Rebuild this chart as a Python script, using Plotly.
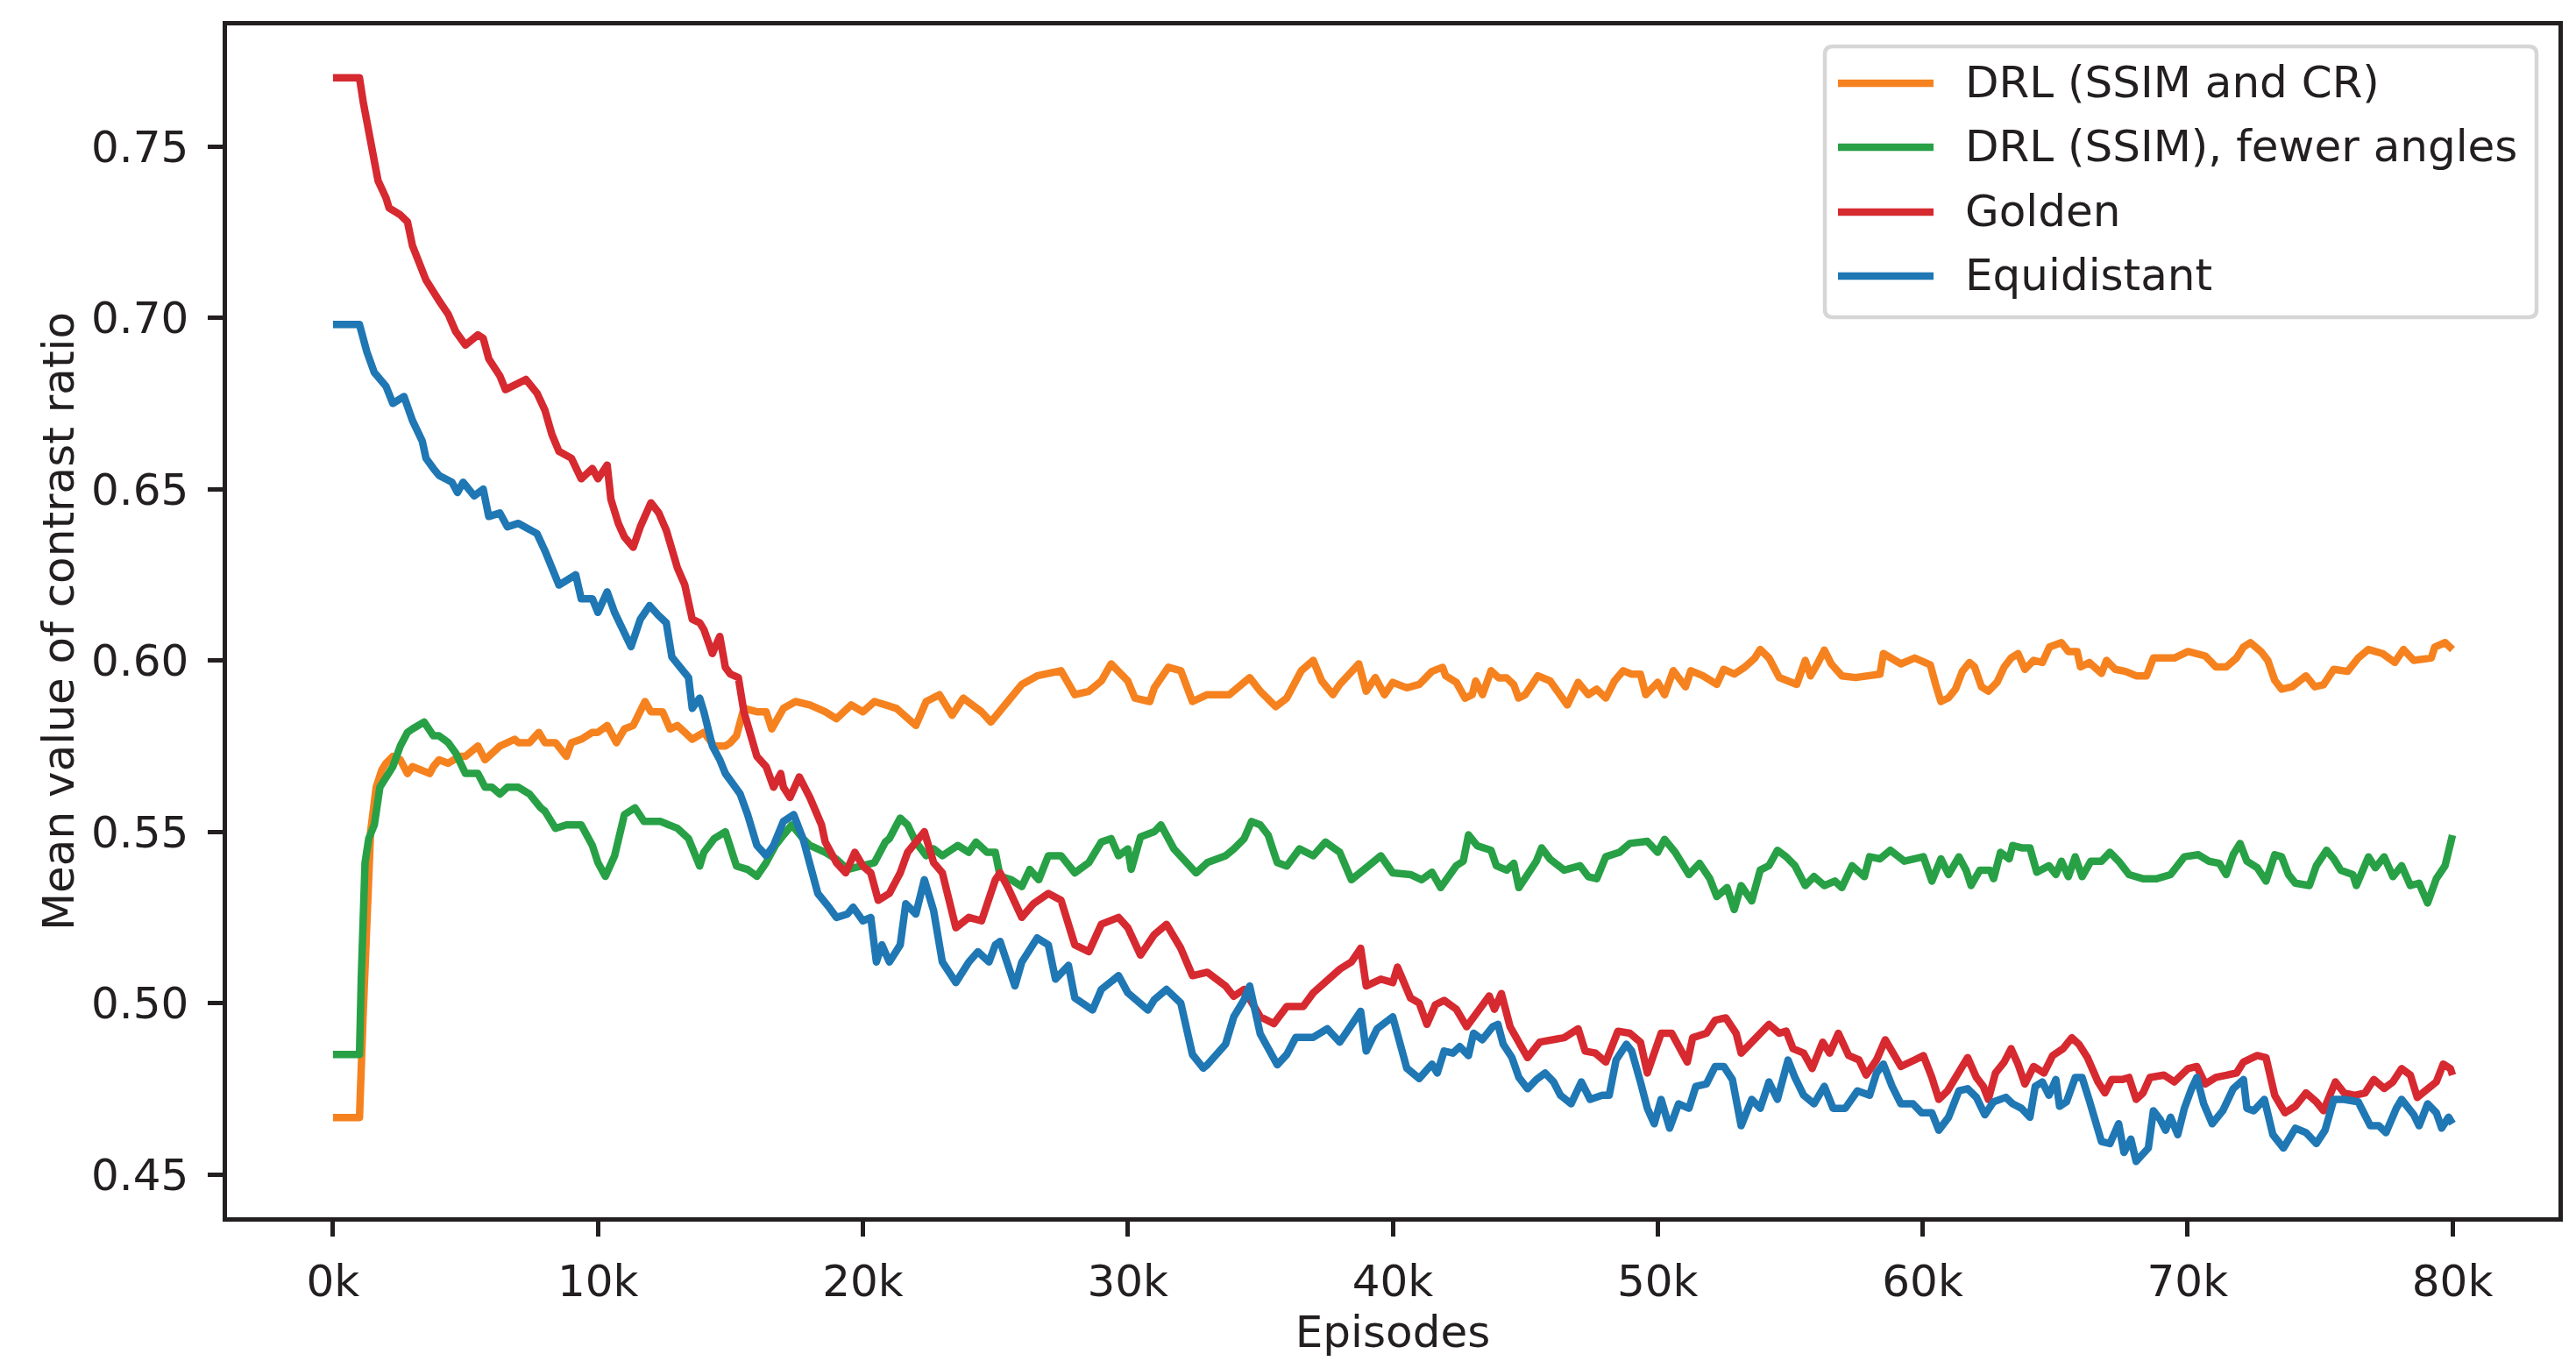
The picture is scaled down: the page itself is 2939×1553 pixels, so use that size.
import plotly.graph_objects as go

# ---------------- data (episodes in thousands, mean contrast ratio) ----------------
drl_ssim_cr = [
    (0, 0.4666), (1.0, 0.4666), (1.14, 0.497), (1.28, 0.530), (1.42, 0.550), (1.63, 0.563), (1.84, 0.568),
    (2.00, 0.570), (2.26, 0.572), (2.54, 0.571), (2.81, 0.567), (3.00, 0.569), (3.37, 0.568), (3.65, 0.567),
    (3.79, 0.569), (4.00, 0.571), (4.35, 0.570), (4.77, 0.572), (5.00, 0.572), (5.47, 0.575), (5.74, 0.571),
    (6.00, 0.573), (6.30, 0.575), (6.86, 0.577), (7.00, 0.576), (7.42, 0.576), (7.77, 0.579), (8.00, 0.576),
    (8.40, 0.576), (8.81, 0.572), (9.00, 0.576), (9.37, 0.577), (9.79, 0.579), (10.00, 0.579), (10.35, 0.581),
    (10.70, 0.576), (11.00, 0.580), (11.33, 0.581), (11.60, 0.586), (11.78, 0.588), (12.00, 0.585),
    (12.44, 0.585), (12.72, 0.580), (13.00, 0.581), (13.28, 0.579), (13.56, 0.577), (14.00, 0.579),
    (14.39, 0.575), (14.81, 0.575), (15.00, 0.576), (15.23, 0.578), (15.51, 0.586), (16.00, 0.585),
    (16.35, 0.585), (16.56, 0.580), (17.00, 0.586), (17.46, 0.588), (18.00, 0.587), (18.58, 0.585),
    (19.00, 0.583), (19.56, 0.587), (20.00, 0.585),
    (20.44, 0.588), (21.27, 0.586), (22.0, 0.581), (22.39, 0.588), (22.89, 0.590), (23.37, 0.584),
    (23.79, 0.589), (24.48, 0.585), (24.83, 0.582), (25.46, 0.588), (26.0, 0.593), (26.58, 0.5955),
    (27.48, 0.597), (28.0, 0.590), (28.53, 0.591), (29.0, 0.594), (29.37, 0.599), (30.0, 0.594),
    (30.27, 0.589), (30.83, 0.588), (31.0, 0.592), (31.53, 0.598), (32.0, 0.597), (32.44, 0.588),
    (33.0, 0.590), (33.83, 0.590), (34.60, 0.595), (35.0, 0.591), (35.58, 0.5865), (36.0, 0.589),
    (36.55, 0.597), (37.0, 0.600), (37.32, 0.594), (37.74, 0.590), (38.0, 0.593), (38.72, 0.599),
    (39.0, 0.591), (39.34, 0.595), (39.69, 0.590), (40.0, 0.5936), (40.53, 0.592), (41.0, 0.593),
    (41.36, 0.5955), (41.48, 0.5968), (41.88, 0.598), (42.0, 0.5955), (42.40, 0.5936), (42.73, 0.589),
    (43.0, 0.590), (43.13, 0.594), (43.39, 0.590), (43.71, 0.597), (44.0, 0.5949), (44.30, 0.5949),
    (44.57, 0.5929), (44.75, 0.589), (45.0, 0.590), (45.48, 0.5955), (45.94, 0.594), (46.33, 0.5897),
    (46.59, 0.587), (47.0, 0.5936), (47.38, 0.590), (47.70, 0.5916), (48.04, 0.589), (48.37, 0.594),
    (48.70, 0.597), (49.0, 0.596), (49.35, 0.596), (49.55, 0.590), (50.0, 0.5936), (50.26, 0.590),
    (50.59, 0.597), (51.05, 0.5923), (51.25, 0.597), (51.71, 0.5955), (52.23, 0.593), (52.49, 0.5974),
    (52.89, 0.596), (53.28, 0.598), (53.67, 0.6007), (53.87, 0.6032), (54.20, 0.6007), (54.59, 0.595),
    (54.98, 0.594), (55.25, 0.593), (55.57, 0.600), (55.77, 0.5955), (56.03, 0.599), (56.29, 0.603),
    (56.55, 0.599), (56.95, 0.5955), (57.47, 0.595), (58.0, 0.5955), (58.39, 0.596), (58.52, 0.602),
    (58.78, 0.6007), (59.18, 0.599), (59.70, 0.6007), (60.29, 0.5987), (60.49, 0.593), (60.69, 0.588),
    (60.98, 0.5891), (61.24, 0.5916), (61.50, 0.5968), (61.77, 0.5994), (61.96, 0.5981), (62.22, 0.5923),
    (62.48, 0.591), (62.81, 0.5936), (63.08, 0.5981), (63.34, 0.6007), (63.60, 0.602), (63.86, 0.5974),
    (64.19, 0.600), (64.52, 0.5994), (64.79, 0.6039), (65.24, 0.6052), (65.50, 0.6026), (65.83, 0.6026),
    (65.96, 0.5981), (66.29, 0.5994), (66.75, 0.5962), (66.94, 0.600), (67.27, 0.5974), (67.66, 0.5968),
    (68.06, 0.5955), (68.45, 0.5955), (68.71, 0.6007), (69.11, 0.6007), (69.50, 0.6007), (70.02, 0.6026),
    (70.41, 0.602), (70.67, 0.6013), (71.07, 0.5981), (71.46, 0.5981), (71.85, 0.6007), (72.11, 0.6039),
    (72.37, 0.6052), (72.77, 0.6026), (73.03, 0.600), (73.29, 0.5942), (73.55, 0.5916), (73.95, 0.5923),
    (74.47, 0.5955), (74.80, 0.5923), (75.13, 0.5929), (75.52, 0.5974), (76.04, 0.5968), (76.44, 0.6007),
    (76.83, 0.6032), (77.36, 0.602), (77.82, 0.5994), (78.15, 0.6032), (78.54, 0.600), (78.93, 0.6007),
    (79.20, 0.6007), (79.33, 0.6039), (79.72, 0.6052), (80.0, 0.6032),
]

drl_ssim_fewer = [
    (0, 0.485), (1.0, 0.485), (1.07, 0.508), (1.21, 0.541), (1.35, 0.548), (1.56, 0.552), (1.77, 0.563),
    (2.00, 0.566), (2.26, 0.569), (2.54, 0.575), (2.81, 0.579), (3.00, 0.580), (3.44, 0.582), (3.79, 0.578),
    (4.00, 0.578), (4.35, 0.576), (4.63, 0.573), (5.00, 0.567), (5.47, 0.567), (5.74, 0.563), (6.00, 0.563),
    (6.30, 0.561), (6.58, 0.563), (7.00, 0.563), (7.42, 0.561), (7.84, 0.557), (8.00, 0.556), (8.40, 0.551),
    (8.81, 0.552), (9.37, 0.552), (9.79, 0.546), (10.00, 0.541), (10.28, 0.537), (10.63, 0.543),
    (11.00, 0.555), (11.40, 0.557), (11.74, 0.553), (12.37, 0.553), (12.72, 0.552), (13.00, 0.551),
    (13.42, 0.548), (13.84, 0.540), (14.00, 0.544), (14.39, 0.548), (14.81, 0.550), (15.23, 0.540),
    (15.65, 0.539), (16.00, 0.537), (16.35, 0.541), (16.70, 0.546), (17.00, 0.549), (17.32, 0.552),
    (17.74, 0.548), (18.00, 0.546), (18.58, 0.544), (19.00, 0.542), (19.42, 0.539), (20.00, 0.540),
    (20.44, 0.541), (20.85, 0.547), (21.0, 0.548), (21.41, 0.554), (21.69, 0.552), (22.0, 0.547),
    (22.39, 0.543), (22.67, 0.545), (23.0, 0.543), (23.58, 0.546), (24.0, 0.544), (24.27, 0.547),
    (24.69, 0.544), (25.0, 0.544), (25.18, 0.537), (25.60, 0.536), (26.0, 0.534), (26.30, 0.539),
    (26.64, 0.536), (27.0, 0.543), (27.48, 0.543), (28.0, 0.538), (28.53, 0.541), (29.0, 0.547),
    (29.37, 0.548), (29.65, 0.543), (30.0, 0.545), (30.13, 0.539), (30.48, 0.5485), (31.0, 0.550),
    (31.25, 0.552), (31.74, 0.545), (32.0, 0.543), (32.58, 0.538), (33.0, 0.541), (33.69, 0.543),
    (34.0, 0.545), (34.39, 0.548), (34.67, 0.553), (35.0, 0.552), (35.30, 0.549), (35.64, 0.541),
    (36.0, 0.540), (36.48, 0.545), (37.0, 0.543), (37.46, 0.547), (38.0, 0.544), (38.44, 0.536),
    (39.0, 0.5395), (39.55, 0.543), (40.0, 0.538), (40.67, 0.5375), (41.09, 0.536),
    (41.48, 0.5382), (41.81, 0.5337), (42.14, 0.5369), (42.40, 0.5401), (42.66, 0.5414), (42.86, 0.5491),
    (43.19, 0.5459), (43.71, 0.5446), (43.91, 0.5401), (44.30, 0.5388), (44.57, 0.5408), (44.76, 0.5337),
    (45.09, 0.5375), (45.42, 0.5414), (45.62, 0.5453), (45.94, 0.542), (46.47, 0.5388), (47.07, 0.5401),
    (47.38, 0.5369), (47.70, 0.5363), (48.04, 0.5427), (48.56, 0.544), (48.95, 0.5466), (49.61, 0.5472),
    (50.00, 0.544), (50.26, 0.5478), (50.66, 0.544), (51.18, 0.5375), (51.58, 0.5408), (51.97, 0.5363),
    (52.23, 0.5311), (52.62, 0.5337), (52.89, 0.5273), (53.15, 0.5343), (53.55, 0.5298), (53.87, 0.5388),
    (54.20, 0.5401), (54.52, 0.5446), (54.85, 0.5427), (55.18, 0.5401), (55.57, 0.5343), (55.90, 0.5369),
    (56.29, 0.5343), (56.69, 0.5356), (56.95, 0.5337), (57.34, 0.5401), (57.80, 0.5369), (58.00, 0.5427),
    (58.39, 0.5421), (58.78, 0.5446), (59.31, 0.5414), (60.03, 0.5427), (60.35, 0.5356), (60.69, 0.5421),
    (60.98, 0.5375), (61.37, 0.5427), (61.64, 0.5388), (61.83, 0.5343), (62.16, 0.5388), (62.55, 0.5388),
    (62.68, 0.5363), (62.94, 0.544), (63.27, 0.5421), (63.40, 0.546), (63.73, 0.5453), (64.05, 0.5453),
    (64.31, 0.5382), (64.77, 0.5401), (65.03, 0.5375), (65.24, 0.5414), (65.50, 0.5369), (65.76, 0.5427),
    (66.02, 0.5369), (66.35, 0.5414), (66.75, 0.5414), (67.07, 0.544), (67.40, 0.5414), (67.79, 0.5375),
    (68.31, 0.5363), (68.84, 0.5363), (69.36, 0.5375), (69.88, 0.5427), (70.41, 0.5433), (70.80, 0.5414),
    (71.20, 0.5408), (71.46, 0.5375), (71.72, 0.5433), (71.98, 0.5466), (72.24, 0.5414), (72.63, 0.5395),
    (72.96, 0.5356), (73.29, 0.5433), (73.55, 0.5427), (73.81, 0.5375), (74.07, 0.535), (74.60, 0.5343),
    (74.86, 0.5401), (75.25, 0.5446), (75.52, 0.5421), (75.78, 0.5388), (76.24, 0.5375), (76.37, 0.5343),
    (76.83, 0.5427), (77.09, 0.5395), (77.42, 0.5427), (77.75, 0.5369), (78.08, 0.5401), (78.41, 0.5343),
    (78.74, 0.535), (79.06, 0.5292), (79.39, 0.5363), (79.72, 0.5401), (80.0, 0.549),
]

golden = [
    (0, 0.770), (1.0, 0.770), (1.14, 0.763), (1.42, 0.750), (1.70, 0.740), (2.00, 0.735), (2.12, 0.732),
    (2.54, 0.730), (2.81, 0.728), (3.00, 0.721), (3.37, 0.714), (3.51, 0.711), (4.00, 0.705), (4.35, 0.701),
    (4.63, 0.696), (5.00, 0.692), (5.47, 0.695), (5.67, 0.694), (5.88, 0.688), (6.30, 0.683), (6.51, 0.679),
    (7.00, 0.681), (7.28, 0.682), (7.70, 0.678), (8.00, 0.673), (8.26, 0.666), (8.53, 0.661), (9.00, 0.659),
    (9.37, 0.653), (9.79, 0.656), (10.00, 0.653), (10.35, 0.657), (10.49, 0.647), (10.77, 0.640),
    (11.00, 0.636), (11.33, 0.633), (11.60, 0.639), (12.00, 0.646), (12.30, 0.643), (12.58, 0.638),
    (12.86, 0.630), (13.00, 0.627), (13.28, 0.622), (13.56, 0.612), (13.84, 0.611), (14.00, 0.609),
    (14.32, 0.602), (14.60, 0.607), (14.81, 0.598), (15.00, 0.596), (15.30, 0.595), (15.51, 0.585),
    (16.00, 0.572), (16.35, 0.569), (16.63, 0.563), (16.90, 0.567), (17.00, 0.563), (17.25, 0.560),
    (17.60, 0.566), (18.00, 0.560), (18.44, 0.552), (18.58, 0.547), (19.00, 0.541), (19.35, 0.538),
    (19.70, 0.544), (20.00, 0.540),
    (20.30, 0.538), (20.58, 0.530), (21.0, 0.532), (21.41, 0.538), (21.69, 0.544), (22.0, 0.547),
    (22.32, 0.550), (22.67, 0.541), (23.0, 0.538), (23.51, 0.522), (24.0, 0.525), (24.48, 0.524),
    (25.0, 0.536), (25.18, 0.538), (25.46, 0.534), (26.0, 0.525), (26.44, 0.529), (27.0, 0.532),
    (27.48, 0.530), (28.0, 0.517), (28.53, 0.515), (29.0, 0.523), (29.65, 0.525), (30.0, 0.522),
    (30.48, 0.514), (31.0, 0.520), (31.46, 0.523), (32.0, 0.516), (32.44, 0.508), (33.0, 0.509),
    (33.69, 0.505), (34.0, 0.502), (34.39, 0.504), (35.0, 0.496), (35.51, 0.494), (36.0, 0.499),
    (36.62, 0.499), (37.0, 0.503), (38.02, 0.510), (38.44, 0.512), (38.79, 0.516), (39.0, 0.505),
    (39.55, 0.507), (40.0, 0.506), (40.18, 0.5105), (40.67, 0.5015), (41.0, 0.500),
    (41.29, 0.4938), (41.61, 0.4995), (41.94, 0.5008), (42.40, 0.4982), (42.79, 0.4931), (43.18, 0.4976),
    (43.64, 0.5021), (43.84, 0.4982), (44.10, 0.5028), (44.43, 0.4931), (44.76, 0.4880), (45.09, 0.4841),
    (45.55, 0.4886), (46.07, 0.4893), (46.47, 0.4899), (47.0, 0.4925), (47.26, 0.486), (47.65, 0.4854),
    (48.04, 0.4828), (48.50, 0.4918), (48.95, 0.4912), (49.35, 0.4886), (49.61, 0.4796), (49.87, 0.4854),
    (50.13, 0.4912), (50.53, 0.4912), (50.79, 0.4873), (51.12, 0.4828), (51.32, 0.4899), (51.84, 0.4912),
    (52.17, 0.4950), (52.57, 0.4957), (52.96, 0.4912), (53.15, 0.4854), (53.55, 0.4886), (54.20, 0.4938),
    (54.59, 0.4912), (54.85, 0.4918), (55.11, 0.4867), (55.51, 0.4854), (55.83, 0.4809), (56.23, 0.4886),
    (56.49, 0.4854), (56.82, 0.4912), (57.21, 0.4847), (57.60, 0.4834), (57.87, 0.479), (58.26, 0.4834),
    (58.59, 0.4893), (58.91, 0.4847), (59.18, 0.4815), (59.70, 0.4834), (60.03, 0.4847), (60.35, 0.4783),
    (60.61, 0.4719), (60.94, 0.4744),
    (61.24, 0.4783), (61.44, 0.4809), (61.70, 0.4841), (62.03, 0.4783), (62.29, 0.4757), (62.48, 0.4719),
    (62.75, 0.4796), (63.08, 0.4828), (63.34, 0.4867), (63.60, 0.4822), (63.86, 0.4764), (64.19, 0.4815),
    (64.58, 0.4796), (64.91, 0.4847), (65.30, 0.4867), (65.63, 0.4899), (65.90, 0.488), (66.22, 0.4841),
    (66.62, 0.477), (66.88, 0.4738), (67.14, 0.4777), (67.53, 0.4777), (67.79, 0.4783), (68.06, 0.4719),
    (68.32, 0.4738), (68.58, 0.4783), (69.11, 0.479), (69.50, 0.477), (70.02, 0.4809), (70.35, 0.4815),
    (70.67, 0.4764), (71.07, 0.4783), (71.46, 0.479), (71.85, 0.4796), (72.11, 0.4828), (72.63, 0.4847),
    (72.96, 0.4841), (73.29, 0.4731), (73.68, 0.468), (74.07, 0.4699), (74.47, 0.4738), (74.86, 0.4712),
    (75.13, 0.4686), (75.58, 0.477), (75.91, 0.4738), (76.31, 0.4731), (76.70, 0.4738), (77.03, 0.4777),
    (77.42, 0.4751), (77.75, 0.477), (78.08, 0.4809), (78.41, 0.479), (78.67, 0.4725), (79.06, 0.4751),
    (79.39, 0.477), (79.65, 0.4822), (79.92, 0.4809), (80.0, 0.479),
]

equidistant = [
    (0, 0.698), (1.0, 0.698), (1.28, 0.690), (1.56, 0.684), (2.00, 0.680), (2.26, 0.675), (2.68, 0.677),
    (3.00, 0.670), (3.37, 0.664), (3.51, 0.659), (3.79, 0.656), (4.00, 0.654), (4.49, 0.652), (4.70, 0.649),
    (4.91, 0.652), (5.33, 0.648), (5.67, 0.650), (5.88, 0.642), (6.30, 0.643), (6.58, 0.639), (7.00, 0.640),
    (7.42, 0.638), (7.70, 0.637), (8.00, 0.632), (8.26, 0.627), (8.53, 0.622), (9.16, 0.625), (9.37, 0.618),
    (9.79, 0.618), (10.00, 0.614), (10.35, 0.620), (10.63, 0.614), (11.00, 0.608), (11.25, 0.604),
    (11.60, 0.612), (11.95, 0.616), (12.30, 0.613), (12.58, 0.611), (12.79, 0.601), (13.00, 0.599),
    (13.42, 0.595), (13.56, 0.586), (13.84, 0.589), (14.00, 0.585), (14.32, 0.575), (14.60, 0.571),
    (14.81, 0.567), (15.00, 0.565), (15.37, 0.561), (15.65, 0.555), (16.00, 0.546), (16.35, 0.543),
    (16.63, 0.546), (17.00, 0.553), (17.39, 0.555), (17.74, 0.548), (18.00, 0.540), (18.30, 0.532),
    (18.72, 0.528), (19.00, 0.525), (19.42, 0.526), (19.63, 0.528), (20.00, 0.524),
    (20.30, 0.525), (20.51, 0.512), (20.72, 0.517), (21.0, 0.512), (21.41, 0.517), (21.62, 0.529),
    (22.0, 0.526), (22.32, 0.536), (22.67, 0.527), (23.0, 0.512), (23.51, 0.506), (24.0, 0.512),
    (24.34, 0.515), (24.76, 0.512), (25.0, 0.517), (25.18, 0.518), (25.74, 0.505), (26.0, 0.512),
    (26.58, 0.519), (27.0, 0.517), (27.27, 0.507), (27.76, 0.511), (28.0, 0.5015), (28.67, 0.498),
    (29.0, 0.504), (29.65, 0.508), (30.0, 0.503), (30.76, 0.498), (31.0, 0.501), (31.46, 0.504),
    (32.0, 0.500), (32.44, 0.485), (32.85, 0.481), (33.0, 0.482), (33.69, 0.488), (34.0, 0.496),
    (34.39, 0.501), (34.60, 0.505), (35.0, 0.491), (35.64, 0.482), (36.0, 0.485), (36.34, 0.490),
    (37.0, 0.490), (37.53, 0.4925), (38.0, 0.4886), (38.79, 0.4976), (39.0, 0.486), (39.41, 0.4925),
    (40.0, 0.496), (40.53, 0.481), (41.0, 0.478),
    (41.48, 0.4822), (41.68, 0.4796), (41.94, 0.486), (42.27, 0.4854), (42.53, 0.4873), (42.86, 0.4847),
    (43.05, 0.4912), (43.38, 0.4893), (43.77, 0.4931), (43.97, 0.4938), (44.17, 0.488), (44.50, 0.4841),
    (44.76, 0.4783), (45.09, 0.475), (45.42, 0.4777), (45.75, 0.4796), (46.07, 0.477), (46.33, 0.4731),
    (46.73, 0.4706), (47.12, 0.477), (47.45, 0.4719), (47.91, 0.4731), (48.17, 0.4731), (48.43, 0.4834),
    (48.82, 0.488), (49.02, 0.486), (49.35, 0.477), (49.61, 0.4693), (49.87, 0.4648), (50.13, 0.4719),
    (50.45, 0.4635), (50.79, 0.4706), (51.18, 0.4693), (51.44, 0.4757), (51.84, 0.4764), (52.17, 0.4815),
    (52.50, 0.4815), (52.82, 0.4777), (53.15, 0.4642), (53.55, 0.4719), (53.87, 0.4693), (54.20, 0.477),
    (54.52, 0.4719), (54.92, 0.4834), (55.18, 0.4783), (55.51, 0.4731), (55.90, 0.4706), (56.29, 0.4757),
    (56.62, 0.4693), (57.08, 0.4693), (57.54, 0.4744), (58.0, 0.4731), (58.26, 0.4796), (58.52, 0.4822),
    (58.85, 0.4757), (59.18, 0.4706), (59.64, 0.4706), (59.96, 0.468), (60.35, 0.468), (60.61, 0.4629),
    (60.98, 0.4667), (61.37, 0.4744), (61.70, 0.475), (62.03, 0.4725), (62.35, 0.4674), (62.68, 0.4712),
    (63.14, 0.4725), (63.40, 0.4706), (63.73, 0.4693), (64.05, 0.4667), (64.25, 0.4757), (64.52, 0.477),
    (64.77, 0.4731), (65.03, 0.4777), (65.17, 0.4699), (65.43, 0.4712), (65.76, 0.4783), (66.02, 0.4783),
    (66.28, 0.4719), (66.55, 0.4654), (66.75, 0.4596), (67.07, 0.459), (67.40, 0.4648), (67.60, 0.4564),
    (67.86, 0.4603), (68.06, 0.4538), (68.32, 0.4564), (68.52, 0.4577), (68.71, 0.4686), (68.97, 0.466),
    (69.17, 0.4629), (69.36, 0.4667), (69.63, 0.4616), (69.88, 0.4693), (70.15, 0.475), (70.35, 0.4783),
    (70.61, 0.4706), (70.93, 0.4648), (71.33, 0.4686), (71.72, 0.475), (72.11, 0.4777), (72.24, 0.4693),
    (72.50, 0.4686), (72.90, 0.4719), (73.22, 0.4616), (73.62, 0.4577), (74.07, 0.4635), (74.47, 0.4622),
    (74.86, 0.459), (75.19, 0.4629), (75.52, 0.4719), (75.91, 0.4719), (76.44, 0.4712), (76.90, 0.4642),
    (77.22, 0.4642), (77.49, 0.4622), (77.88, 0.4693), (78.08, 0.4719), (78.54, 0.4674), (78.74, 0.4642),
    (79.06, 0.4706), (79.39, 0.468), (79.59, 0.4635), (79.85, 0.4667), (80.0, 0.4648),
]

series_names = ["DRL (SSIM and CR)", "DRL (SSIM), fewer angles", "Golden", "Equidistant"]
series_data = [drl_ssim_cr, drl_ssim_fewer, golden, equidistant]
series_colors = ["#f5821f", "#28a046", "#d62930", "#1f77b4"]

x_tick_vals = [0, 10000, 20000, 30000, 40000, 50000, 60000, 70000, 80000]
x_tick_text = ["0k", "10k", "20k", "30k", "40k", "50k", "60k", "70k", "80k"]
y_tick_vals = [0.45, 0.50, 0.55, 0.60, 0.65, 0.70, 0.75]
y_tick_text = ["0.45", "0.50", "0.55", "0.60", "0.65", "0.70", "0.75"]

# ---------------- figure ----------------
W, H = 2939, 1553
ML, MR, MT, MB = 259, 20, 29, 164
PW, PH = W - ML - MR, H - MT - MB
INK = "#231f20"
FONT = "DejaVu Sans"
LW = 8.5

fig = go.Figure()
for name, pts, color in zip(series_names, series_data, series_colors):
    fig.add_trace(go.Scatter(
        x=[p[0] * 1000 for p in pts], y=[p[1] for p in pts],
        mode="lines", name=name, showlegend=False,
        line=dict(color=color, width=LW),
    ))

axis_common = dict(
    showline=True, linewidth=4.5, linecolor=INK, mirror=True,
    ticks="outside", ticklen=17, tickwidth=4.5, tickcolor=INK,
    showgrid=False, zeroline=False,
    tickfont=dict(family=FONT, size=50, color=INK),
)

fig.update_layout(
    width=W, height=H,
    margin=dict(l=ML, r=MR, t=MT, b=MB, pad=0, autoexpand=False),
    paper_bgcolor="white", plot_bgcolor="white",
    font=dict(family=FONT, size=50, color=INK),
    xaxis=dict(range=[-4000, 84000], tickvals=x_tick_vals, ticktext=x_tick_text,
               title=dict(text="Episodes", font=dict(family=FONT, size=50, color=INK), standoff=12),
               ticklabelstandoff=8, automargin=False, **axis_common),
    yaxis=dict(range=[0.4375, 0.7853], tickvals=y_tick_vals, ticktext=y_tick_text,
               title=dict(text="Mean value of contrast ratio", font=dict(family=FONT, size=50, color=INK), standoff=5),
               ticklabelstandoff=12, automargin=False, **axis_common),
)

# ---------------- legend (matplotlib-style, drawn in paper coordinates) ----------------
def px_x(xp):
    return (xp - ML) / PW

def px_y(yp):
    return (H - MB - yp) / PH

bx0, bx1, by0, by1, r = 2082, 2894, 53, 362, 9
rx, ry = r / PW, r / PH
X0, X1, Y0, Y1 = px_x(bx0), px_x(bx1), px_y(by1), px_y(by0)
path = (f"M{X0 + rx},{Y0} L{X1 - rx},{Y0} Q{X1},{Y0} {X1},{Y0 + ry} "
        f"L{X1},{Y1 - ry} Q{X1},{Y1} {X1 - rx},{Y1} L{X0 + rx},{Y1} "
        f"Q{X0},{Y1} {X0},{Y1 - ry} L{X0},{Y0 + ry} Q{X0},{Y0} {X0 + rx},{Y0} Z")
fig.add_shape(type="path", path=path, xref="paper", yref="paper",
              line=dict(color="#d6d6d6", width=4.5), fillcolor="rgba(255,255,255,0.8)", layer="above")

row_y = [95, 168, 242, 315]
for name, color, ry_ in zip(series_names, series_colors, row_y):
    fig.add_shape(type="line", xref="paper", yref="paper",
                  x0=px_x(2097), x1=px_x(2206), y0=px_y(ry_), y1=px_y(ry_),
                  line=dict(color=color, width=LW), layer="above")
    fig.add_annotation(text=name, xref="paper", yref="paper", x=px_x(2240), y=px_y(ry_ - 1),
                       xanchor="left", yanchor="middle", showarrow=False,
                       font=dict(family=FONT, size=50, color=INK))

post = """
document.body.style.margin='0';
document.querySelectorAll('.scatterlayer path.js-line').forEach(function(p){p.style.strokeLinejoin='round';p.style.strokeLinecap='butt';});
"""
fig.write_html("out.html", config={"displayModeBar": False}, post_script=post)
